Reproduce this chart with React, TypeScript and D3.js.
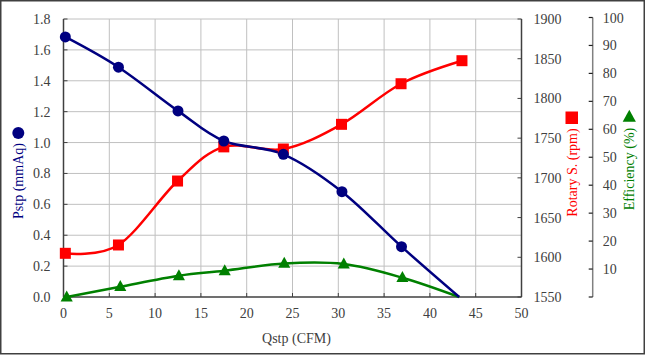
import React from "react";
import * as d3 from "d3";

const qstp = [0.2, 6.0, 12.5, 17.5, 24.0, 30.4, 36.9, 43.2];
const pstp = [1.684, 1.488, 1.205, 1.01, 0.924, 0.682, 0.326, 0.0];
const rpmQ = [0.2, 6.0, 12.45, 17.5, 24.0, 30.35, 36.85, 43.5];
const rpm = [1605, 1615.5, 1696, 1739, 1736.3, 1767.4, 1818.5, 1847.5];
const effQ = [0.35, 6.2, 12.6, 17.6, 24.1, 30.6, 37.0, 43.2];
const eff = [0.0, 3.7, 7.6, 9.4, 12.0, 11.8, 6.9, 0.0];

const xTicks = [0, 5, 10, 15, 20, 25, 30, 35, 40, 45, 50];
const yTicks = [0, 0.2, 0.4, 0.6, 0.8, 1.0, 1.2, 1.4, 1.6, 1.8];
const rpmTicks = [1550, 1600, 1650, 1700, 1750, 1800, 1850, 1900];
const effTicks = [0, 10, 20, 30, 40, 50, 60, 70, 80, 90, 100];

const W = 647;
const H = 356;
const L = 63.5;
const R = 521.5;
const T = 19;
const B = 297;

export default function App() {
  const x = d3.scaleLinear().domain([0, 50]).range([L, R]);
  const y = d3.scaleLinear().domain([0, 1.8]).range([B, T]);
  const yr = d3.scaleLinear().domain([1550, 1900]).range([B, T]);
  const ye = d3.scaleLinear().domain([0, 100]).range([B, 17.5]);
  const EX = 592.7;

  const curve = d3.curveCatmullRom.alpha(0);
  const lineP = d3.line<number>().x((_, i) => x(qstp[i])).y((d) => y(d)).curve(curve);
  const lineR = d3.line<number>().x((_, i) => x(rpmQ[i])).y((d) => yr(d)).curve(curve);
  const lineE = d3.line<number>().x((_, i) => x(effQ[i])).y((d) => ye(d)).curve(curve);

  const fs = { fontFamily: '"Liberation Serif"', fontSize: "14px" };
  const tri = (cx: number, cy: number, s: number) =>
    `M${cx},${cy - s * 0.6}L${cx + s * 0.55},${cy + s * 0.4}L${cx - s * 0.55},${cy + s * 0.4}Z`;

  return (
    <svg
      width={W}
      height={H}
      style={{ position: "absolute", left: 0, top: 0, background: "#fff" }}
    >
      <rect x={0.75} y={0.75} width={643.5} height={353} fill="#fff" stroke="#404040" strokeWidth={1.5} />
      {xTicks.slice(1, -1).map((t) => (
        <line key={"gx" + t} x1={x(t)} x2={x(t)} y1={T} y2={B} stroke="#c0c0c0" strokeWidth={1} />
      ))}
      {yTicks.slice(1).map((t) => (
        <line key={"gy" + t} x1={L} x2={R} y1={y(t)} y2={y(t)} stroke="#c0c0c0" strokeWidth={1} />
      ))}
      <line x1={L} x2={L} y1={T} y2={B} stroke="#404040" strokeWidth={1.5} />
      <line x1={R} x2={R} y1={T} y2={B} stroke="#404040" strokeWidth={1.5} />
      <line x1={L} x2={R} y1={B} y2={B} stroke="#404040" strokeWidth={1.5} />
      {yTicks.map((t) => (
        <g key={"yt" + t}>
          <line x1={L} x2={L + 4} y1={y(t)} y2={y(t)} stroke="#404040" strokeWidth={1} />
          <text x={L - 13} y={y(t) + 5} textAnchor="end" style={fs} fill="#404040">
            {t.toFixed(1)}
          </text>
        </g>
      ))}
      {rpmTicks.map((t) => (
        <g key={"rt" + t}>
          <line x1={R - 4} x2={R} y1={yr(t)} y2={yr(t)} stroke="#404040" strokeWidth={1} />
          <text x={R + 12} y={yr(t) + 5} textAnchor="start" style={fs} fill="#404040">
            {t}
          </text>
        </g>
      ))}
      {xTicks.map((t) => (
        <g key={"xt" + t}>
          <line x1={x(t)} x2={x(t)} y1={B} y2={B - 4} stroke="#404040" strokeWidth={1} />
          <text x={x(t)} y={B + 21} textAnchor="middle" style={fs} fill="#404040">
            {t}
          </text>
        </g>
      ))}
      <line x1={EX} x2={EX} y1={ye(100)} y2={B} stroke="#808080" strokeWidth={1.5} />
      {effTicks.map((t) => (
        <g key={"et" + t}>
          <line x1={EX - 4} x2={EX} y1={ye(t)} y2={ye(t)} stroke="#202020" strokeWidth={1.2} />
          {t > 0 && (
            <text x={EX + 10} y={ye(t) + 5} textAnchor="start" style={fs} fill="#404040">
              {t}
            </text>
          )}
        </g>
      ))}
      <path d={lineE(eff) || ""} fill="none" stroke="#008000" strokeWidth={2.5} />
      <path d={lineR(rpm) || ""} fill="none" stroke="#ff0000" strokeWidth={2.5} />
      <path d={lineP(pstp) || ""} fill="none" stroke="#000080" strokeWidth={2.5} />
      {eff.slice(0, 7).map((v, i) => (
        <path key={"te" + i} d={tri(x(effQ[i]), ye(v), 11)} fill="#008000" />
      ))}
      {rpm.map((v, i) => (
        <rect key={"sr" + i} x={x(rpmQ[i]) - 5.5} y={yr(v) - 5.5} width={11} height={11} fill="#ff0000" />
      ))}
      {pstp.slice(0, 7).map((v, i) => (
        <circle key={"cp" + i} cx={x(qstp[i])} cy={y(v)} r={5.5} fill="#000080" />
      ))}
      <text x={(L + R) / 2 + 4} y={343} textAnchor="middle" style={fs} fill="#404040">
        Qstp (CFM)
      </text>
      <circle cx={18.3} cy={133} r={6} fill="#000080" />
      <text transform="translate(23,181) rotate(-90)" textAnchor="middle" style={fs} fill="#000080">
        Pstp (mmAq)
      </text>
      <rect x={565.5} y={111.5} width={12.5} height={12.5} fill="#ff0000" />
      <text transform="translate(576.5,172.5) rotate(-90)" textAnchor="middle" style={fs} fill="#ff0000">
        Rotary S. (rpm)
      </text>
      <path d={tri(629.3, 117, 12)} fill="#008000" />
      <text transform="translate(634,169) rotate(-90)" textAnchor="middle" style={fs} fill="#008000">
        Efficiency (%)
      </text>
    </svg>
  );
}
